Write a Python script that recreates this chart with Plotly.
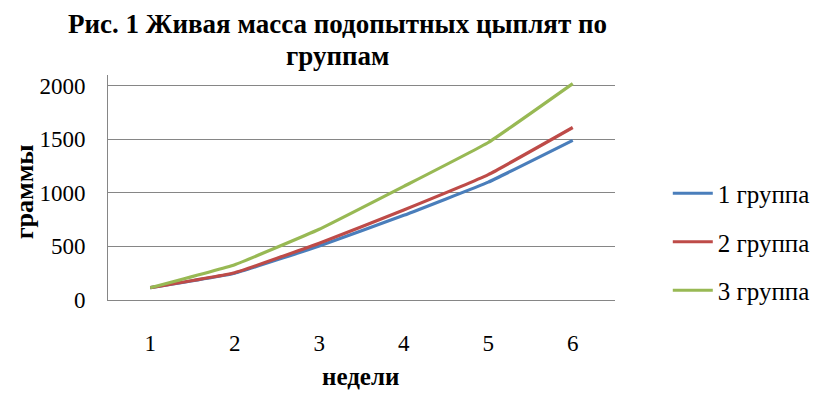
import plotly.graph_objects as go

weeks = [1, 2, 3, 4, 5, 6]
week_labels = ["1", "2", "3", "4", "5", "6"]
group1 = [115, 250, 505, 790, 1100, 1490]
group2 = [115, 255, 530, 840, 1170, 1610]
group3 = [115, 330, 660, 1060, 1470, 2020]
series_names = ["1 группа", "2 группа", "3 группа"]
colors = ["#4A7EBB", "#BE4B48", "#98B954"]

# page has an 8px body margin; work in page pixel coords and shift
OFF = 8
W, H = 827 - OFF, 393 - OFF
L, R, T, B = 108 - OFF, 617 - OFF, 75 - OFF, 300 - OFF


def px_x(px):
    return (px - OFF - L) / (R - L)


def px_y(py):
    return (B - (py - OFF)) / (B - T)


fig = go.Figure()
for i, (name, vals) in enumerate(zip(series_names, [group1, group2, group3])):
    fig.add_trace(go.Scatter(
        x=weeks, y=vals, mode="lines", name=name, legendgroup=name,
        line=dict(color=colors[i], width=3.2, shape="spline", smoothing=0.3),
    ))

serif = "Liberation Serif"
fig.update_layout(
    width=W, height=H, autosize=False,
    margin=dict(l=L, r=W - R, t=T, b=H - B),
    paper_bgcolor="white", plot_bgcolor="white",
    font=dict(family=serif, size=22, color="black"),
    showlegend=True,
    legend=dict(x=px_x(670), xanchor="left", y=px_y(242), yanchor="middle",
                font=dict(family=serif, size=25, color="black"),
                tracegroupgap=13, itemwidth=40, bgcolor="rgba(0,0,0,0)"),
    xaxis=dict(range=[0.5, 6.5], tickmode="array", tickvals=weeks, ticktext=week_labels,
               showgrid=False, zeroline=False, showline=True, linecolor="#868686", linewidth=1,
               ticks="", ticklabelstandoff=22, tickfont=dict(family=serif, size=23)),
    yaxis=dict(range=[0, 2100], tickmode="array", tickvals=[0, 500, 1000, 1500, 2000],
               ticktext=["0", "500", "1000", "1500", "2000"],
               showgrid=True, gridcolor="#868686", gridwidth=1, zeroline=False,
               showline=True, linecolor="#868686", linewidth=1, ticks="", ticklabelstandoff=17,
               tickfont=dict(family=serif, size=23)),
    annotations=[
        dict(text="<b>Рис. 1 Живая масса подопытных цыплят по</b>",
             xref="paper", yref="paper", x=px_x(338), y=px_y(24),
             xanchor="center", yanchor="middle", showarrow=False,
             font=dict(family=serif, size=27, color="black")),
        dict(text="<b>группам</b>",
             xref="paper", yref="paper", x=px_x(338), y=px_y(56),
             xanchor="center", yanchor="middle", showarrow=False,
             font=dict(family=serif, size=27, color="black")),
        dict(text="<b>недели</b>", xref="paper", yref="paper", x=px_x(361),
             y=px_y(376), xanchor="center", yanchor="middle", showarrow=False,
             font=dict(family=serif, size=25, color="black")),
        dict(text="<b>граммы</b>", xref="paper", yref="paper", x=px_x(24),
             y=px_y(192), xanchor="center", yanchor="middle", showarrow=False,
             textangle=-90, font=dict(family=serif, size=26, color="black")),
    ],
)

fig.write_html("out.html")
